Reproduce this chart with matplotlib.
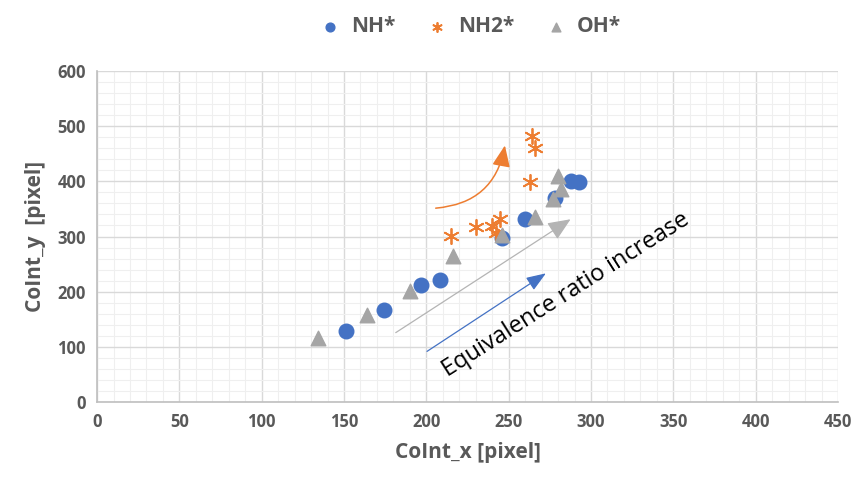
import matplotlib.pyplot as plt
from matplotlib.ticker import MultipleLocator

plt.rcParams['font.family'] = ['Open Sans', 'DejaVu Sans']

# NH* points (blue circles)
nh_x = [151, 174, 197, 208, 246, 260, 278, 288, 293]
nh_y = [129, 167, 212, 221, 297, 331, 370, 400, 398]
# NH2* points (orange asterisks)
nh2_x = [215, 230, 240, 242, 245, 263, 264, 266]
nh2_y = [301, 317, 319, 306, 331, 399, 482, 460]
# OH* points (grey triangles)
oh_x = [134, 164, 190, 216, 246, 266, 277, 282, 280]
oh_y = [116, 158, 201, 264, 302, 335, 368, 387, 409]

blue = '#4472C4'
orange = '#ED7D31'
grey = '#A5A5A5'
txt = '#595959'

fig = plt.figure(figsize=(8.61, 4.83), dpi=100)
ax = fig.add_axes([0.1127, 0.1677, 0.8606, 0.6853])

ax.scatter(nh_x, nh_y, s=110, c=blue, marker='o', label='NH*', zorder=3)
ax.scatter(nh2_x, nh2_y, s=120, c=orange, marker=(6, 2, 0), linewidths=1.3,
           label='NH2*', zorder=3)
ax.scatter(oh_x, oh_y, s=110, c=grey, marker='^', label='OH*', zorder=3)

# trend arrows
ax.annotate('', xy=(289, 334), xytext=(180, 123),
            arrowprops=dict(arrowstyle='-|>,head_length=1.4,head_width=0.6',
                            color='#B4B4B4', lw=0.9), zorder=2)
ax.annotate('', xy=(274, 236), xytext=(199, 89),
            arrowprops=dict(arrowstyle='-|>,head_length=1.2,head_width=0.45',
                            color=blue, lw=0.9), zorder=2)
ax.annotate('', xy=(248, 470), xytext=(204, 351),
            arrowprops=dict(arrowstyle='-|>,head_length=1.3,head_width=0.55',
                            color=orange, lw=1.1,
                            connectionstyle='arc3,rad=0.4'), zorder=2)
ax.text(285, 195, 'Equivalence ratio increase', rotation=32.4,
        ha='center', va='center', fontsize=17, color='black',
        rotation_mode='anchor')

ax.set_xlim(0, 450)
ax.set_ylim(0, 600)
ax.xaxis.set_major_locator(MultipleLocator(50))
ax.yaxis.set_major_locator(MultipleLocator(100))
ax.xaxis.set_minor_locator(MultipleLocator(10))
ax.yaxis.set_minor_locator(MultipleLocator(20))
ax.grid(which='major', color='#D9D9D9', lw=1.0, zorder=0)
ax.grid(which='minor', color='#EFEFEF', lw=0.8, zorder=0)
ax.set_axisbelow(True)
ax.tick_params(which='both', length=0, labelsize=12, labelcolor=txt, pad=8)
for lab in ax.get_xticklabels() + ax.get_yticklabels():
    lab.set_fontweight('bold')
for s in ['top', 'right']:
    ax.spines[s].set_visible(False)
for s in ['left', 'bottom']:
    ax.spines[s].set_color('#BFBFBF')
    ax.spines[s].set_linewidth(1.2)

ax.set_xlabel('CoInt_x [pixel]', fontsize=15, fontweight='bold', color=txt, labelpad=8)
ax.set_ylabel('CoInt_y  [pixel]', fontsize=15, fontweight='bold', color=txt, labelpad=8)

leg = fig.legend(loc='upper center', bbox_to_anchor=(0.54, 1.005), ncol=3, frameon=False,
                 fontsize=15, handletextpad=0.0, columnspacing=1.0, markerscale=0.6)
for t in leg.get_texts():
    t.set_color(txt)
    t.set_fontweight('bold')

fig.savefig('out.png', dpi=100)
